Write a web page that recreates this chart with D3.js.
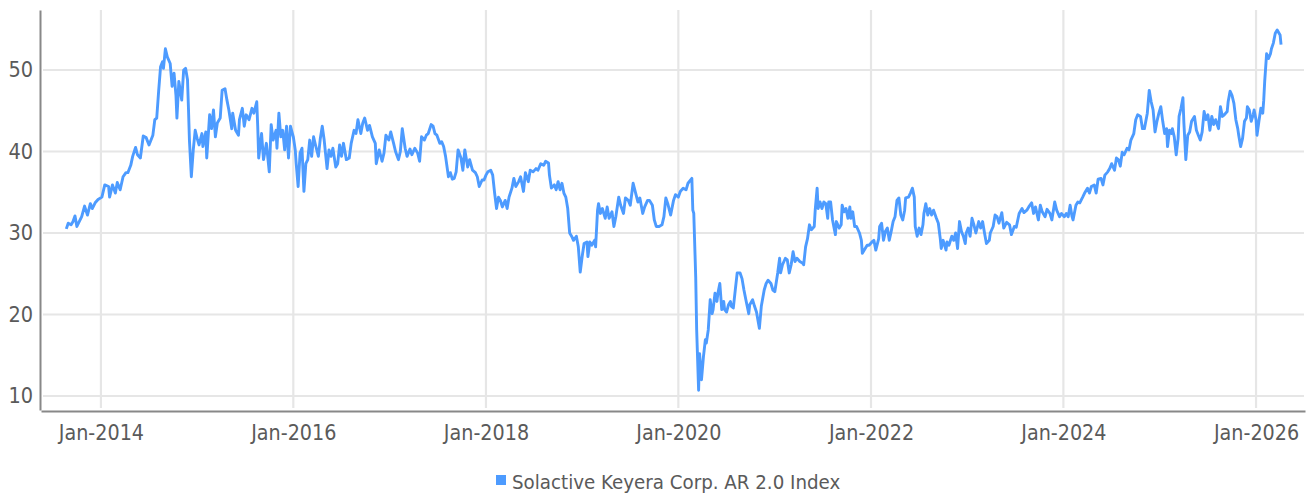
<!DOCTYPE html>
<html><head><meta charset="utf-8">
<script src="https://cdn.jsdelivr.net/npm/d3@7"></script>
<style>
html,body{margin:0;padding:0;background:#fff;}
svg{display:block;}
.lbl{font-family:"Liberation Sans Narrow","DejaVu Sans Condensed","Roboto",sans-serif;font-stretch:condensed;fill:#5a5a5a;}
</style></head>
<body><svg id="chart" width="1311" height="495"></svg>
<script>
const seriesName = "Solactive Keyera Corp. AR 2.0 Index";
const yTicks = [10, 20, 30, 40, 50];
const xTickYears = [2014, 2016, 2018, 2020, 2022, 2024, 2026];
const xTickLabels = ["Jan-2014","Jan-2016","Jan-2018","Jan-2020","Jan-2022","Jan-2024","Jan-2026"];
const dates = [
2013.64,2013.66,2013.69,2013.71,2013.73,2013.75,2013.80,2013.83,2013.86,2013.89,2013.91,2013.94,2013.97,
2014.01,2014.04,2014.08,2014.09,2014.12,2014.15,2014.17,2014.20,2014.23,2014.26,2014.28,2014.31,2014.33,2014.36,2014.38,2014.41,2014.44,2014.47,2014.50,2014.54,2014.56,2014.58,2014.60,2014.62,2014.64,2014.65,2014.67,2014.69,2014.72,2014.74,2014.76,2014.78,2014.79,2014.81,2014.84,2014.86,2014.88,2014.90,2014.91,2014.92,2014.94,2014.96,2014.98,
2015.00,2015.02,2015.05,2015.06,2015.09,2015.10,2015.13,2015.15,2015.17,2015.19,2015.21,2015.24,2015.26,2015.29,2015.31,2015.33,2015.36,2015.37,2015.40,2015.43,2015.44,2015.47,2015.49,2015.51,2015.54,2015.57,2015.59,2015.62,2015.63,2015.64,2015.67,2015.69,2015.72,2015.75,2015.77,2015.79,2015.82,2015.83,2015.85,2015.87,2015.89,2015.91,2015.93,2015.95,2015.97,
2016.00,2016.02,2016.03,2016.05,2016.07,2016.09,2016.11,2016.13,2016.15,2016.17,2016.19,2016.21,2016.23,2016.26,2016.28,2016.30,2016.32,2016.35,2016.37,2016.39,2016.41,2016.44,2016.46,2016.48,2016.50,2016.52,2016.55,2016.58,2016.60,2016.63,2016.65,2016.67,2016.70,2016.72,2016.74,2016.77,2016.79,2016.82,2016.85,2016.86,2016.89,2016.92,2016.94,2016.96,2016.99,
2017.01,2017.04,2017.06,2017.09,2017.11,2017.13,2017.16,2017.18,2017.21,2017.23,2017.26,2017.29,2017.31,2017.33,2017.36,2017.38,2017.40,2017.43,2017.45,2017.47,2017.49,2017.52,2017.54,2017.56,2017.58,2017.61,2017.63,2017.65,2017.67,2017.69,2017.71,2017.74,2017.76,2017.78,2017.81,2017.83,2017.86,2017.89,2017.91,2017.93,2017.96,2017.98,
2018.00,2018.02,2018.05,2018.07,2018.09,2018.11,2018.13,2018.15,2018.17,2018.20,2018.22,2018.24,2018.27,2018.29,2018.31,2018.34,2018.36,2018.39,2018.41,2018.44,2018.46,2018.49,2018.52,2018.54,2018.57,2018.60,2018.62,2018.65,2018.66,2018.68,2018.71,2018.73,2018.75,2018.77,2018.79,2018.81,2018.83,2018.85,2018.87,2018.89,2018.91,2018.94,2018.96,2018.98,
2019.00,2019.02,2019.05,2019.06,2019.08,2019.10,2019.13,2019.14,2019.16,2019.17,2019.19,2019.21,2019.24,2019.26,2019.28,2019.31,2019.33,2019.35,2019.38,2019.40,2019.43,2019.45,2019.48,2019.50,2019.53,2019.56,2019.58,2019.60,2019.63,2019.65,2019.68,2019.70,2019.73,2019.75,2019.77,2019.80,2019.83,2019.85,2019.87,2019.89,2019.92,2019.95,2019.97,
2020.00,2020.02,2020.05,2020.08,2020.10,2020.14,2020.15,2020.16,2020.18,2020.19,2020.21,2020.22,2020.24,2020.26,2020.28,2020.29,2020.31,2020.33,2020.35,2020.36,2020.38,2020.40,2020.41,2020.43,2020.45,2020.47,2020.48,2020.50,2020.52,2020.54,2020.55,2020.57,2020.59,2020.61,2020.64,2020.66,2020.68,2020.70,2020.73,2020.74,2020.77,2020.79,2020.81,2020.84,2020.86,2020.89,2020.91,2020.93,2020.96,2020.98,
2021.00,2021.03,2021.05,2021.06,2021.08,2021.11,2021.13,2021.15,2021.17,2021.19,2021.21,2021.23,2021.26,2021.29,2021.30,2021.32,2021.34,2021.36,2021.38,2021.41,2021.42,2021.44,2021.45,2021.47,2021.49,2021.51,2021.53,2021.55,2021.56,2021.58,2021.60,2021.63,2021.64,2021.67,2021.69,2021.70,2021.72,2021.74,2021.76,2021.78,2021.79,2021.81,2021.83,2021.85,2021.88,2021.90,2021.91,2021.93,2021.96,2021.98,
2022.01,2022.03,2022.05,2022.08,2022.09,2022.11,2022.13,2022.15,2022.17,2022.19,2022.21,2022.23,2022.25,2022.27,2022.29,2022.31,2022.33,2022.35,2022.36,2022.39,2022.41,2022.43,2022.45,2022.46,2022.48,2022.50,2022.52,2022.54,2022.55,2022.57,2022.59,2022.61,2022.63,2022.65,2022.68,2022.70,2022.72,2022.73,2022.75,2022.78,2022.79,2022.81,2022.84,2022.86,2022.88,2022.90,2022.92,2022.94,2022.96,2022.98,2022.99,
2023.01,2023.03,2023.05,2023.07,2023.09,2023.12,2023.14,2023.16,2023.18,2023.20,2023.23,2023.24,2023.27,2023.29,2023.31,2023.33,2023.36,2023.38,2023.41,2023.44,2023.46,2023.49,2023.51,2023.54,2023.57,2023.59,2023.62,2023.64,2023.67,2023.69,2023.71,2023.74,2023.76,2023.78,2023.81,2023.83,2023.86,2023.88,2023.91,2023.93,2023.96,2023.98,
2024.01,2024.03,2024.05,2024.07,2024.09,2024.10,2024.13,2024.15,2024.17,2024.20,2024.22,2024.25,2024.27,2024.29,2024.32,2024.34,2024.36,2024.39,2024.41,2024.43,2024.46,2024.48,2024.50,2024.53,2024.55,2024.57,2024.59,2024.61,2024.63,2024.66,2024.68,2024.70,2024.73,2024.75,2024.77,2024.80,2024.82,2024.84,2024.87,2024.89,2024.91,2024.93,2024.95,2024.97,2024.99,
2025.01,2025.03,2025.05,2025.07,2025.08,2025.10,2025.12,2025.13,2025.15,2025.17,2025.19,2025.20,2025.22,2025.24,2025.25,2025.27,2025.29,2025.31,2025.33,2025.36,2025.38,2025.40,2025.42,2025.44,2025.46,2025.48,2025.50,2025.52,2025.54,2025.56,2025.58,2025.61,2025.63,2025.65,2025.67,2025.70,2025.71,2025.73,2025.75,2025.77,2025.79,2025.81,2025.82,2025.84,2025.86,2025.88,2025.90,2025.91,2025.93,2025.95,2025.97,2025.98,
2026.00,2026.01,2026.03,2026.05,2026.07,2026.08,2026.09,2026.11,2026.13,2026.15,2026.16,2026.18,2026.20,2026.22,2026.23,2026.25,2026.26
];
const values = [
30.5,31.2,31.0,31.4,32.1,30.8,32.0,33.3,32.2,33.6,33.0,33.7,34.1,
34.4,35.9,35.7,34.4,35.9,34.9,36.2,35.3,36.9,37.4,37.4,38.3,39.4,40.5,39.6,39.2,41.9,41.7,40.8,42.0,43.9,44.1,47.4,50.4,51.0,50.2,52.6,51.6,50.8,48.0,49.6,46.9,44.1,48.6,46.3,50.0,50.2,48.8,45.3,41.4,36.9,40.2,42.6,
41.6,40.8,42.2,40.6,42.4,39.2,44.5,42.8,45.1,41.8,43.5,44.1,47.5,47.7,46.3,45.1,42.8,44.7,42.6,42.0,43.9,45.3,43.1,44.5,43.9,45.3,44.7,46.1,43.1,39.2,42.2,39.0,41.0,37.5,43.3,41.4,42.6,40.4,44.7,41.8,42.6,40.2,43.1,39.2,43.1,
41.8,40.2,38.5,35.7,39.8,40.4,35.1,38.5,39.0,41.4,39.4,41.8,40.8,39.4,41.6,43.1,41.4,37.9,40.2,39.4,40.4,38.1,38.5,40.8,39.4,41.0,39.0,39.2,41.0,42.6,42.2,43.9,42.2,43.5,44.1,42.6,43.2,41.8,41.0,38.5,40.2,38.8,39.8,42.0,41.4,
42.4,41.0,40.0,39.0,40.0,42.8,40.4,39.4,40.3,39.6,40.4,39.8,38.8,41.8,41.4,42.0,42.2,43.3,43.1,42.2,42.0,41.0,41.2,40.6,39.4,36.9,37.4,36.6,36.7,37.5,40.2,39.2,37.7,40.2,38.1,39.0,37.7,37.4,36.9,35.7,36.5,36.5,
37.1,37.5,37.7,37.1,34.9,33.0,34.4,34.0,33.2,34.0,33.0,34.4,35.5,36.7,35.7,36.3,36.9,35.1,37.4,36.3,37.7,37.5,37.9,37.7,38.5,38.3,38.8,38.6,37.1,35.5,35.9,35.3,36.3,35.3,36.1,34.9,34.4,33.0,30.0,29.6,29.1,29.6,28.3,25.2,
27.1,28.7,28.9,27.1,28.9,28.5,29.1,28.3,32.8,33.6,32.4,33.0,31.8,33.2,31.8,32.6,30.8,32.0,34.4,33.4,32.4,34.3,34.0,33.4,36.1,34.7,33.8,34.3,32.4,33.2,34.0,34.0,33.4,31.6,30.8,30.8,31.0,32.0,34.3,33.6,32.2,34.0,34.7,
34.4,35.1,35.5,35.3,36.1,36.7,32.8,32.4,24.6,18.1,10.7,15.2,12.0,14.8,16.9,16.5,18.1,21.8,20.1,20.6,22.6,21.6,22.6,23.8,20.6,21.6,20.6,20.3,21.2,21.6,21.0,20.8,23.0,25.1,25.1,24.4,23.0,21.8,20.1,21.2,21.8,21.0,20.3,18.3,21.0,23.0,23.8,24.2,23.8,23.0,
22.8,25.1,26.9,25.1,26.1,26.9,26.7,25.1,26.1,27.7,26.5,26.9,26.5,26.3,26.1,28.3,29.3,31.0,30.4,30.8,32.8,35.5,33.0,33.8,33.0,33.8,33.6,31.8,33.8,33.8,31.6,29.8,31.4,30.6,31.0,33.4,32.6,33.0,31.8,33.2,31.8,32.6,30.8,30.8,30.0,29.1,27.5,27.9,28.5,28.5,
28.9,29.1,27.9,29.3,30.8,31.2,29.1,30.2,30.6,29.1,30.2,31.4,32.0,34.0,34.3,32.2,31.6,32.8,34.3,34.4,34.9,35.5,34.4,30.8,29.6,30.6,29.8,31.0,32.4,33.6,32.2,33.0,32.2,32.8,31.8,31.2,29.3,28.1,29.1,27.9,28.9,28.5,29.6,29.1,30.0,28.1,31.4,30.2,29.6,28.7,30.0,
30.6,29.6,31.8,31.0,30.0,31.4,30.6,31.4,30.0,28.7,29.1,30.0,30.8,32.2,32.0,31.2,32.5,30.6,31.3,31.0,29.8,30.8,30.7,32.4,33.0,32.5,32.8,33.2,33.7,32.4,33.2,31.6,33.4,32.6,32.0,32.9,32.4,31.6,33.8,32.8,32.0,32.4,
32.0,32.4,32.0,33.4,32.0,31.6,33.4,33.8,33.7,34.4,34.9,35.5,34.9,35.7,35.9,34.9,36.6,36.7,35.9,37.1,37.5,37.9,38.5,37.7,39.2,39.0,38.2,39.9,39.6,40.4,40.2,41.4,42.2,43.9,44.5,44.3,42.8,42.8,44.7,47.5,46.1,45.1,42.4,43.7,44.7,
45.5,43.7,42.2,42.8,40.6,42.6,42.2,42.8,41.8,39.6,41.6,44.3,45.3,46.6,43.5,39.0,42.0,42.4,43.7,44.3,42.6,42.0,41.4,42.4,44.9,43.9,44.5,42.6,44.3,43.3,43.9,42.8,45.5,44.3,44.5,44.9,46.1,47.4,46.9,45.9,43.9,42.8,42.0,40.6,41.6,43.7,44.1,45.5,45.1,43.7,44.5,45.1,
43.9,42.0,43.7,45.3,44.7,46.3,48.6,52.0,51.4,52.0,52.6,53.3,54.5,54.9,54.7,54.3,53.1
];

function toDate(dy){
  const yr = Math.floor(dy);
  const s = new Date(yr,0,1).getTime(), e = new Date(yr+1,0,1).getTime();
  return new Date(s + (dy - yr) * (e - s));
}
const nPts = Math.min(dates.length, values.length);
const data = d3.range(nPts).map(i=>({date:toDate(dates[i]), value:values[i]}));

const svg = d3.select("#chart");
const plotLeft = 41, plotRight = 1305, plotTop = 10, plotBottom = 410;
const x = d3.scaleTime().domain([toDate(2013.377), toDate(2026.509)]).range([plotLeft, plotRight]);
const y = d3.scaleLinear().domain([8.28, 57.36]).range([plotBottom, plotTop]);
const xTicks = xTickYears.map(yr => new Date(yr,0,1));

// grid
svg.append("g").selectAll("line").data(yTicks).join("line")
  .attr("x1", plotLeft+2).attr("x2", plotRight-1)
  .attr("y1", d=>y(d)).attr("y2", d=>y(d))
  .attr("stroke", "#e6e6e6").attr("stroke-width", 2.2);
svg.append("g").selectAll("line").data(xTicks).join("line")
  .attr("x1", d=>x(d)).attr("x2", d=>x(d))
  .attr("y1", plotTop).attr("y2", plotBottom-2)
  .attr("stroke", "#e6e6e6").attr("stroke-width", 2.2);

// line
svg.append("path").datum(data)
  .attr("fill","none").attr("stroke","#4d9bff").attr("stroke-width",2.9)
  .attr("stroke-linejoin","round")
  .attr("d", d3.line().x(d=>x(d.date)).y(d=>y(d.value)));

// axes
const yAxis = d3.axisLeft(y).tickValues(yTicks).tickSize(0).tickPadding(7).tickFormat(d3.format("d"));
const gy = svg.append("g").attr("transform",`translate(${plotLeft-1},0)`).call(yAxis);
gy.select(".domain").attr("stroke","#888").attr("stroke-width",2);
gy.selectAll("text").attr("class","lbl").style("font-size","21.5px").attr("fill","#5a5a5a");

const xAxis = d3.axisBottom(x).tickValues(xTicks).tickSize(0).tickPadding(14)
  .tickFormat((d,i)=>xTickLabels[i]);
const gx = svg.append("g").attr("transform",`translate(0,${plotBottom+1})`).call(xAxis);
gx.select(".domain").attr("stroke","#888").attr("stroke-width",2);
gx.selectAll("text").attr("class","lbl").style("font-size","21.3px").attr("fill","#5a5a5a");

// legend
const lg = svg.append("g");
lg.append("rect").attr("x",496).attr("y",475).attr("width",10).attr("height",10).attr("fill","#4d9bff");
lg.append("text").attr("class","lbl").attr("x",512).attr("y",489).style("font-size","20.3px").text(seriesName);

if (dates.length !== values.length) setTimeout(()=>{ throw new Error("length mismatch " + dates.length + " vs " + values.length); }, 0);
</script></body></html>
